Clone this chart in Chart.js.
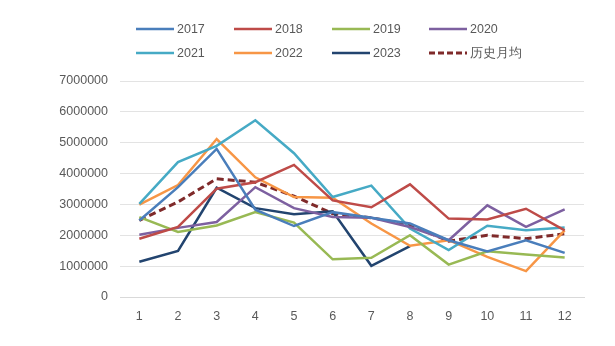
<!DOCTYPE html>
<html>
<head>
<meta charset="utf-8">
<script src="https://cdn.jsdelivr.net/npm/chart.js@4.4.1/dist/chart.umd.min.js"></script>
<style>
  html, body { margin: 0; padding: 0; background: #fff; }
  #grafico { display: block; }
</style>
</head>
<body>
<canvas id="grafico" width="615" height="346"></canvas>
<script>
// 月份
const meses = ['1', '2', '3', '4', '5', '6', '7', '8', '9', '10', '11', '12'];

// 各年度月度数据
const ano2017 = [2480000, 3560000, 4800000, 2830000, 2300000, 2750000, 2570000, 2380000, 1840000, 1480000, 1840000, 1430000];
const ano2018 = [1890000, 2270000, 3510000, 3720000, 4280000, 3130000, 2910000, 3650000, 2540000, 2510000, 2860000, 2160000];
const ano2019 = [2590000, 2110000, 2320000, 2750000, 2410000, 1220000, 1270000, 2000000, 1050000, 1480000, 1380000, 1280000];
const ano2020 = [2020000, 2240000, 2430000, 3560000, 2880000, 2590000, 2570000, 2270000, 1840000, 2970000, 2270000, 2840000];
const ano2021 = [3020000, 4370000, 4900000, 5730000, 4660000, 3240000, 3610000, 2220000, 1520000, 2310000, 2160000, 2250000];
const ano2022 = [2990000, 3630000, 5120000, 3880000, 3240000, 3220000, 2380000, 1660000, 1840000, 1300000, 840000, 2160000];
const ano2023 = [1140000, 1490000, 3540000, 2880000, 2680000, 2780000, 1010000, 1650000, null, null, null, null];
const mediaHistorica = [2480000, 3080000, 3830000, 3720000, 3270000, 2700000, 2570000, 2340000, 1810000, 2000000, 1890000, 2050000];

const corTexto = '#595959';
const fonte = 'Liberation Sans, Arial, sans-serif';

function serie(label, data, cor, tracejado) {
    return {
        label: label,
        data: data,
        borderColor: cor,
        backgroundColor: cor,
        borderWidth: tracejado ? 3 : 2.5,
        borderDash: tracejado ? [7, 4] : [],
        pointRadius: 0,
        fill: false,
        tension: 0,
        spanGaps: false
    };
}

// Legenda em grade 4 x 2
const legendaGrade = {
    id: 'legendaGrade',
    afterDraw(chart) {
        const ctx = chart.ctx;
        const colunas = [136, 234, 332, 429];
        const linhas = [29, 53];
        ctx.save();
        ctx.font = '12.5px ' + fonte;
        ctx.textBaseline = 'middle';
        ctx.fillStyle = corTexto;
        chart.data.datasets.forEach((ds, i) => {
            const x = colunas[i % 4];
            const y = linhas[Math.floor(i / 4)];
            ctx.beginPath();
            ctx.strokeStyle = ds.borderColor;
            ctx.lineWidth = ds.borderWidth;
            ctx.setLineDash(ds.borderDash.length ? [6, 3] : []);
            ctx.moveTo(x, y);
            ctx.lineTo(x + 38, y);
            ctx.stroke();
            ctx.setLineDash([]);
            ctx.fillText(ds.label, x + 41, y + 1);
        });
        ctx.restore();
    }
};

const ctx = document.getElementById('grafico').getContext('2d');
const chart = new Chart(ctx, {
    type: 'line',
    data: {
        labels: meses,
        datasets: [
            serie('2017', ano2017, '#4A7EBB'),
            serie('2018', ano2018, '#BE4B48'),
            serie('2019', ano2019, '#98B954'),
            serie('2020', ano2020, '#7D60A0'),
            serie('2021', ano2021, '#46AAC5'),
            serie('2022', ano2022, '#F79646'),
            serie('2023', ano2023, '#22446F'),
            serie('历史月均', mediaHistorica, '#7F2A2A', true)
        ]
    },
    options: {
        responsive: false,
        animation: false,
        layout: { padding: { top: 81, right: 31, bottom: 0, left: 0 } },
        plugins: {
            legend: { display: false },
            tooltip: { enabled: false }
        },
        scales: {
            x: {
                offset: true,
                grid: { display: false, drawTicks: false },
                border: { display: true, color: '#D9D9D9', width: 1 },
                ticks: { color: corTexto, font: { family: fonte, size: 12.5 }, padding: 12, maxRotation: 0 },
                afterFit(scale) { scale.height = 49; }
            },
            y: {
                min: 0,
                max: 7000000,
                grid: { color: '#E3E3E3', lineWidth: 1, drawTicks: false },
                border: { display: false },
                ticks: {
                    stepSize: 1000000,
                    color: corTexto,
                    font: { family: fonte, size: 12.5 },
                    padding: 12,
                    callback: v => String(v)
                },
                afterFit(scale) { scale.width = 120; }
            }
        }
    },
    plugins: [legendaGrade]
});
</script>
</body>
</html>
